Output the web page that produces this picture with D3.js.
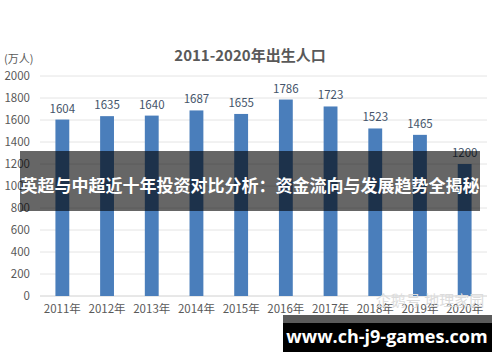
<!DOCTYPE html>
<html><head><meta charset="utf-8">
<script src="https://cdn.jsdelivr.net/npm/d3@7"></script>
<style>body{margin:0;background:#fff}svg{display:block}</style>
</head><body>
<svg id="c" width="500" height="362"></svg>
<script>
const years = ["2011年","2012年","2013年","2014年","2015年","2016年","2017年","2018年","2019年","2020年"];
const births = [1604,1635,1640,1687,1655,1786,1723,1523,1465,1200];
const yTicks = [0,200,400,600,800,1000,1200,1400,1600,1800,2000];
const title = "2011-2020年出生人口";
const unitLabel = "(万人)";
const bannerText = "英超与中超近十年投资对比分析：资金流向与发展趋势全揭秘";
const urlText = "www.ch-j9-games.com";
const watermark = "企鹅号 地理家园";

const svg = d3.select("#c");
const font = "'Microsoft YaHei','Noto Sans CJK SC','DejaVu Sans',sans-serif";
const x = d3.scaleBand().domain(years).range([40, 487]).paddingInner(0.69).paddingOuter(0.345);
const y = d3.scaleLinear().domain([0, 2000]).range([296, 76]);

svg.append("g").selectAll("line").data(yTicks).join("line")
  .attr("x1", 40).attr("x2", 487).attr("y1", d => y(d)).attr("y2", d => y(d))
  .attr("stroke", d => d === 0 ? "#d0d0d0" : "#e4e4e4").attr("stroke-width", 1);

const yAxis = d3.axisLeft(y).tickValues(yTicks).tickFormat(d3.format("d")).tickSize(0).tickPadding(10);
const gy = svg.append("g").attr("transform", "translate(40,0)").call(yAxis);
gy.select(".domain").remove();
gy.selectAll("text").attr("fill", "#595959").style("font-family", font).style("font-size", "11.5px");

const xAxis = d3.axisBottom(x).tickSize(0).tickPadding(9);
const gx = svg.append("g").attr("transform", "translate(0,296)").call(xAxis);
gx.select(".domain").remove();
gx.selectAll("text").attr("fill", "#595959").style("font-family", font).style("font-size", "11.5px");

svg.append("g").selectAll("rect").data(births).join("rect")
  .attr("x", (d, i) => x(years[i])).attr("width", x.bandwidth())
  .attr("y", d => y(d)).attr("height", d => y(0) - y(d))
  .attr("fill", "#4a7ebb");

svg.append("g").selectAll("text").data(births).join("text")
  .attr("x", (d, i) => x(years[i]) + x.bandwidth() / 2)
  .attr("y", d => y(d) - 7)
  .attr("text-anchor", "middle").attr("fill", "#44546a")
  .style("font-family", font).style("font-size", "11.5px")
  .text(d => d);

svg.append("text").attr("x", 250).attr("y", 61).attr("text-anchor", "middle")
  .attr("fill", "#595959").style("font-family", font).style("font-size", "15px").style("font-weight", "bold")
  .text(title);

svg.append("text").attr("x", 4).attr("y", 63).attr("fill", "#595959")
  .style("font-family", font).style("font-size", "11px").text(unitLabel);

svg.append("text").attr("x", 430).attr("y", 306).attr("text-anchor", "middle")
  .attr("fill", "#dcdcdc").style("font-family", font).style("font-size", "15px")
  .text(watermark);

svg.append("rect").attr("x", 20).attr("y", 151).attr("width", 460).attr("height", 60)
  .attr("fill", "rgba(0,0,0,0.6)");
svg.append("text").attr("x", 250).attr("y", 192).attr("text-anchor", "middle")
  .attr("fill", "#fff").style("font-family", font).style("font-size", "17px").style("font-weight", "bold")
  .text(bannerText);

svg.append("rect").attr("x", 283).attr("y", 315).attr("width", 209).attr("height", 37).attr("fill", "#000");
svg.append("rect").attr("x", 283).attr("y", 315).attr("width", 209).attr("height", 8).attr("fill", "#5a5a5a");
svg.append("text").attr("x", 387).attr("y", 343).attr("text-anchor", "middle")
  .attr("fill", "#fff").style("font-family", "'Open Sans','DejaVu Sans',sans-serif").style("font-size", "18px").style("font-weight", "bold")
  .text(urlText);
</script>
</body></html>
